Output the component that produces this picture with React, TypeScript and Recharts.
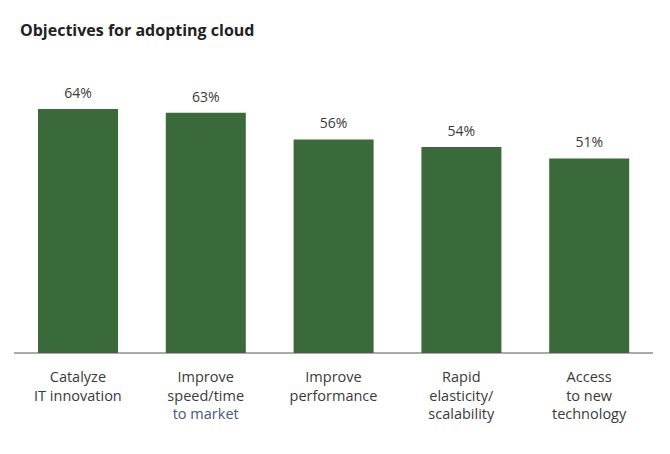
import { BarChart, Bar, XAxis, YAxis, LabelList } from 'recharts';

const categories = [
  'Catalyze|IT innovation',
  'Improve|speed/time|to market',
  'Improve|performance',
  'Rapid|elasticity/|scalability',
  'Access|to new|technology',
];
const shares = [64, 63, 56, 54, 51];

const data = categories.map((name, i) => ({ name, value: shares[i] }));

const font = '"Open Sans", sans-serif';

function CategoryTick(props: any) {
  const { x, y, payload } = props;
  const lines: string[] = String(payload.value).split('|');
  return (
    <g transform={`translate(${x},${y})`}>
      {lines.map((line, i) => (
        <text
          key={i}
          x={0}
          y={21 + i * 18.5}
          textAnchor="middle"
          fontFamily={font}
          fontSize={14.5}
          fill={line === 'to market' ? '#4a5778' : '#3a3a3a'}
        >
          {line}
        </text>
      ))}
    </g>
  );
}

export default function App() {
  return (
    <div style={{ position: 'absolute', left: 0, top: 0, width: 670, height: 454, background: '#fff' }}>
      <div
        style={{
          position: 'absolute',
          left: 20,
          top: 19,
          fontFamily: font,
          fontWeight: 700,
          fontSize: 16,
          color: '#222',
        }}
      >
        Objectives for adopting cloud
      </div>
      <BarChart
        width={670}
        height={454}
        data={data}
        margin={{ top: 86, right: 17, bottom: 21, left: 14 }}
      >
        <XAxis
          dataKey="name"
          height={80}
          interval={0}
          tickLine={false}
          axisLine={{ stroke: '#555', strokeWidth: 1 }}
          tick={<CategoryTick />}
        />
        <YAxis hide domain={[0, 70]} />
        <Bar dataKey="value" fill="#3a6a39" barSize={80} isAnimationActive={false}>
          <LabelList
            dataKey="value"
            position="top"
            offset={11}
            formatter={(v: any) => `${v}%`}
            style={{ fontFamily: font, fontSize: 14, fill: '#3a3a3a' }}
          />
        </Bar>
      </BarChart>
    </div>
  );
}
